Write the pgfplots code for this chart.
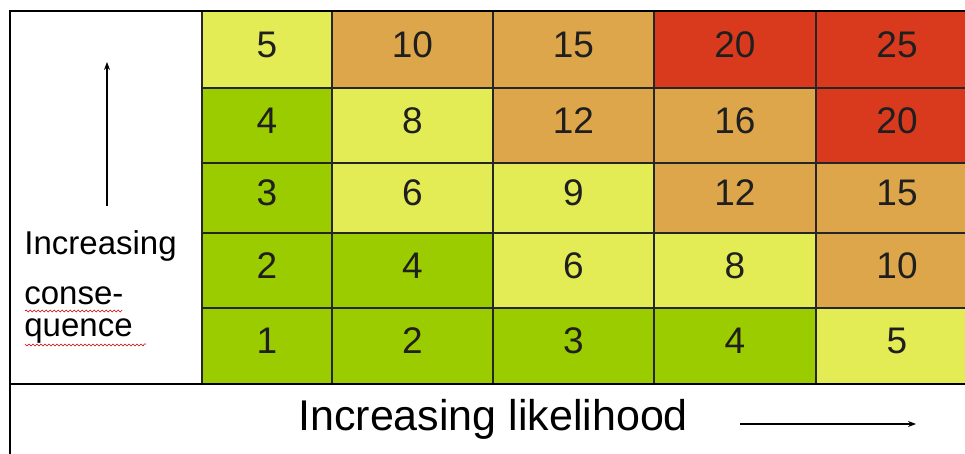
\documentclass[border=0pt]{standalone}
\usepackage{pgfplots}
\pgfplotsset{compat=1.18}
\usepackage{fontspec}
\setmainfont{Liberation Sans}
\usetikzlibrary{decorations.pathmorphing,arrows.meta}

% cell corners (pixel grid), c = colour class of the cell to the lower right
\pgfplotstableread{
x y c
202 11 1
332 11 2
493 11 2
654 11 3
816 11 3
980 11 0

202 88 0
332 88 1
493 88 2
654 88 2
816 88 3
980 88 0

202 163 0
332 163 1
493 163 1
654 163 2
816 163 2
980 163 0

202 233 0
332 233 0
493 233 1
654 233 1
816 233 2
980 233 0

202 308 0
332 308 0
493 308 0
654 308 0
816 308 1
980 308 0

202 384 0
332 384 0
493 384 0
654 384 0
816 384 0
980 384 0
}\cells

% risk score = likelihood x consequence, at cell centres
\pgfplotstableread{
x y v
267 49.5 5
412.5 49.5 10
573.5 49.5 15
735 49.5 20
897 49.5 25
267 125.5 4
412.5 125.5 8
573.5 125.5 12
735 125.5 16
897 125.5 20
267 198 3
412.5 198 6
573.5 198 9
735 198 12
897 198 15
267 270.5 2
412.5 270.5 4
573.5 270.5 6
735 270.5 8
897 270.5 10
267 346 1
412.5 346 2
573.5 346 3
735 346 4
897 346 5
}\scores

\begin{document}
\begin{tikzpicture}
\begin{axis}[
    width=482.5pt, height=227pt,
    scale only axis,
    xmin=0, xmax=965,
    ymin=0, ymax=454,
    y dir=reverse,
    hide axis,
    colormap={risk}{rgb255=(154,204,0) rgb255=(227,236,85) rgb255=(222,166,74) rgb255=(217,58,30)},
    colormap access=direct,
]

\addplot[surf, shader=flat corner, mesh/cols=6, point meta=explicit]
    table[x=x, y=y, meta=c] {\cells};

\addplot[draw=none, mark=none, nodes near coords, point meta=explicit symbolic,
    every node near coord/.style={anchor=base, yshift=-3.8pt, inner sep=0pt,
        font=\fontsize{18.5}{22}\selectfont, text=black!88}]
    table[x=x, y=y, meta=v] {\scores};

% grid lines
\draw[black!85, line width=0.9pt]
    (axis cs:202,11) -- (axis cs:202,384)
    (axis cs:332,11) -- (axis cs:332,384)
    (axis cs:493,11) -- (axis cs:493,384)
    (axis cs:654,11) -- (axis cs:654,384)
    (axis cs:816,11) -- (axis cs:816,384)
    (axis cs:202,88) -- (axis cs:980,88)
    (axis cs:202,163) -- (axis cs:980,163)
    (axis cs:202,233) -- (axis cs:980,233)
    (axis cs:202,308) -- (axis cs:980,308);
% outer frame
\draw[black, line width=1.1pt]
    (axis cs:980,11) -- (axis cs:10,11) -- (axis cs:10,470)
    (axis cs:10,384) -- (axis cs:980,384);

% axis captions
\node[anchor=base west, inner sep=0pt, font=\fontsize{21.5}{25}\selectfont]
    at (axis cs:298,430) {Increasing likelihood};
\draw[line width=0.6pt, -{Stealth[length=4pt,width=3pt]}]
    (axis cs:740,424) -- (axis cs:916,424);

\draw[line width=0.6pt, -{Stealth[length=4pt,width=3pt]}]
    (axis cs:107,206) -- (axis cs:107,62);
\node[anchor=base west, inner sep=0pt, font=\fontsize{16.5}{19}\selectfont]
    at (axis cs:24,255) {Increasing};
\node[anchor=base west, inner sep=0pt, font=\fontsize{16.5}{19}\selectfont]
    at (axis cs:24,305) {conse-};
\node[anchor=base west, inner sep=0pt, font=\fontsize{16.5}{19}\selectfont]
    at (axis cs:24,337) {quence};
\draw[red!80!black, line width=0.3pt, decorate,
    decoration={snake, amplitude=0.5pt, segment length=2pt}]
    (axis cs:25,311) -- (axis cs:122,311)
    (axis cs:25,344) -- (axis cs:146,344);
\end{axis}
\pgfresetboundingbox
\path (0,0) rectangle (482.5pt,227pt);
\end{tikzpicture}
\end{document}
